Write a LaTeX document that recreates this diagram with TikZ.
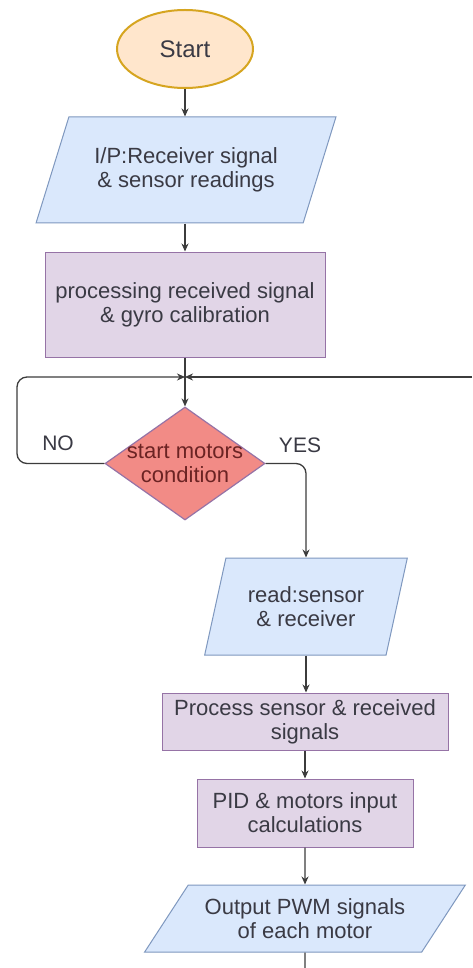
\documentclass[tikz,border=0pt]{standalone}
\usepackage{fontspec}
\setmainfont{Liberation Sans}
\usetikzlibrary{shapes.geometric,arrows.meta}
\definecolor{startfill}{HTML}{FFE6CC}
\definecolor{startdraw}{HTML}{D6A520}
\definecolor{iofill}{HTML}{DAE8FC}
\definecolor{iodraw}{HTML}{7F98BF}
\definecolor{procfill}{HTML}{E1D5E7}
\definecolor{procdraw}{HTML}{9673A6}
\definecolor{decfill}{HTML}{F28B86}
\definecolor{dectxt}{HTML}{6B2323}
\definecolor{txt}{HTML}{3A3A44}
\definecolor{linec}{HTML}{3C3C3C}
\tikzset{
  base/.style={font=\fontsize{22}{24}\selectfont, text=txt, align=center, inner sep=0pt, line width=1pt},
  startbox/.style={base, ellipse, draw=startdraw, fill=startfill, line width=2pt, minimum width=136pt, minimum height=78pt, font=\fontsize{24}{26}\selectfont},
  iobox/.style={base, trapezium, trapezium stretches=true, draw=iodraw, fill=iofill},
  procbox/.style={base, rectangle, draw=procdraw, fill=procfill},
  decbox/.style={diamond, draw=procdraw, fill=decfill, line width=1.2pt, inner sep=0pt, minimum width=160pt, minimum height=113pt},
  lbl/.style={base, font=\fontsize{21}{24}\selectfont},
  conn/.style={draw=linec, line width=1.3pt, -{Stealth[length=8pt,width=7pt]}},
  plainline/.style={draw=linec, line width=1.3pt},
}
\begin{document}
\begin{tikzpicture}[x=1pt,y=-1pt]
\useasboundingbox[fill=white] (0,0) rectangle (472,968);
\node[startbox] (start) at (185,49) {Start};
\node[iobox, trapezium left angle=60, trapezium right angle=120, minimum width=300pt, minimum height=106pt] (in) at (186,170) {I/P:Receiver signal\\\& sensor readings};
\node[procbox, minimum width=280pt, minimum height=105pt] (proc) at (185,304.5) {processing received signal\\\& gyro calibration};
\coordinate (j) at (185,377);
\coordinate (lc) at (17,377);
\coordinate (rc) at (472,377);
\node[decbox] (dec) at (185,463.5) {};
\node[base, text=dectxt] (dect) at (185,463) {start motors\\condition};
\node[lbl] (no) at (58,443) {NO};
\node[lbl] (yes) at (300,445) {YES};
\node[iobox, trapezium left angle=69, trapezium right angle=111, minimum width=203pt, minimum height=97pt] (read) at (306,606.5) {read:sensor\\\& receiver};
\node[procbox, minimum width=286pt, minimum height=57pt] (pss) at (305,721.5) {Process sensor \& received\\signals};
\node[procbox, minimum width=216pt, minimum height=68pt] (pid) at (305,813) {PID \& motors input\\calculations};
\node[iobox, trapezium left angle=47, trapezium right angle=133, minimum width=322pt, minimum height=67pt] (out) at (305,918.5) {Output PWM signals\\of each motor};
\coordinate (end) at (305,968);

\draw[conn] (start.south) -- (start.south |- in.north);
\draw[conn] (proc.north |- in.south) -- (proc.north);
\draw[conn] (proc.south) -- (dec.north);
\draw[conn, rounded corners=10pt] (dec.west) -| (lc) -- (j);
\draw[conn] (rc) -- (j);
\draw[conn, rounded corners=10pt] (dec.east) -| (read.north);
\draw[conn] (read.south) -- (read.south |- pss.north);
\draw[conn] (pss.south) -- (pid.north);
\draw[conn] (pid.south) -- (out.north);
\draw[plainline] (out.south) -- (end);
\end{tikzpicture}
\end{document}
